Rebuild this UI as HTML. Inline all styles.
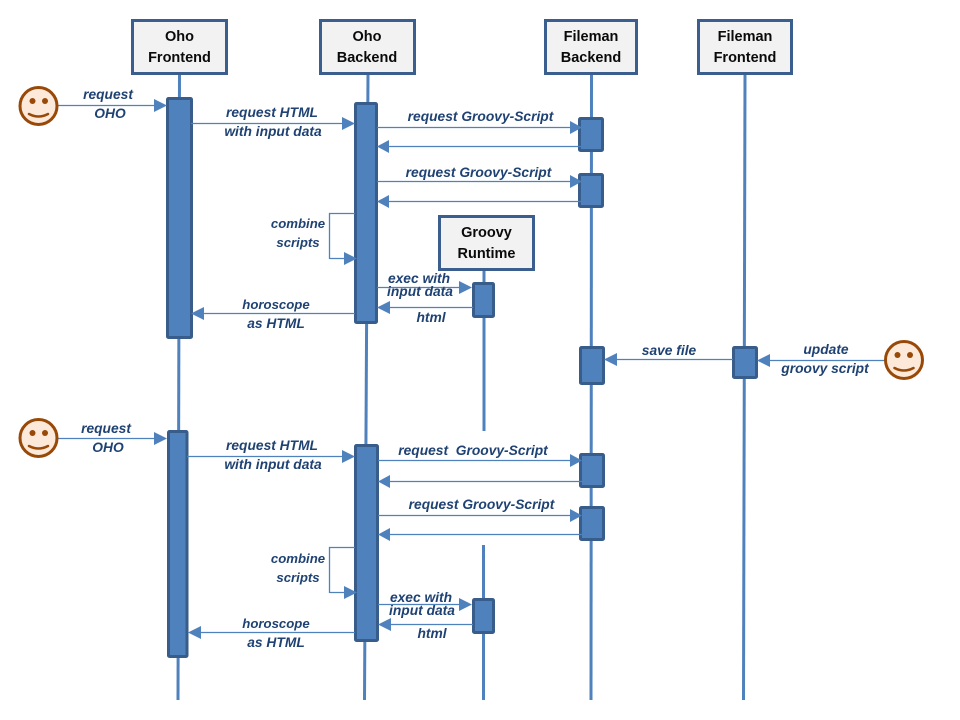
<!DOCTYPE html>
<html><head><meta charset="utf-8"><style>
html,body{margin:0;padding:0;background:#fff}
svg{display:block}
.h{font:bold 14.5px "Liberation Sans",sans-serif;fill:#0a0a0a;text-anchor:middle}
.l{font:italic bold 13.8px "Liberation Sans",sans-serif;fill:#1f4273;text-anchor:middle}
.n{font-size:13.2px}
.c{stroke:#4f81bd;stroke-width:1.3;fill:none}
.box{fill:#f2f2f2;stroke:#3a5f8f;stroke-width:3}
.bar{fill:#4f81bd;stroke:#385d8a;stroke-width:3}
.ll{stroke:#4f81bd;stroke-width:3;fill:none}
.a{fill:#4f81bd}
.f{fill:#fde9d9;stroke:#984807;stroke-width:3}
.e{fill:#984807}
.m{fill:none;stroke:#984807;stroke-width:2.5;stroke-linecap:round}
</style></head><body>
<svg width="960" height="720" viewBox="0 0 960 720" xmlns="http://www.w3.org/2000/svg">
<!-- lifelines -->
<path class="ll" d="M179.5 74L178 700"/>
<path class="ll" d="M368 74L364.500 700"/>
<path class="ll" d="M591.500 74L591 700"/>
<path class="ll" d="M745 74L743.500 700"/>
<path class="ll" d="M484 270V431"/>
<path class="ll" d="M483.500 545V700"/>
<!-- headers -->
<rect class="box" x="132.500" y="20.500" width="94" height="53"/>
<rect class="box" x="320.500" y="20.500" width="94" height="53"/>
<rect class="box" x="545.500" y="20.500" width="91" height="53"/>
<rect class="box" x="698.500" y="20.500" width="93" height="53"/>
<rect class="box" x="439.500" y="216.500" width="94" height="53"/>
<text class="h" x="179.500" y="41">Oho</text><text class="h" x="179.500" y="62">Frontend</text>
<text class="h" x="367" y="41">Oho</text><text class="h" x="367" y="62">Backend</text>
<text class="h" x="591" y="41">Fileman</text><text class="h" x="591" y="62">Backend</text>
<text class="h" x="745" y="41">Fileman</text><text class="h" x="745" y="62">Frontend</text>
<text class="h" x="486.500" y="237">Groovy</text><text class="h" x="486.500" y="258">Runtime</text>
<!-- activations -->
<rect class="bar" x="167.500" y="98.500" width="24" height="239" rx="1"/>
<rect class="bar" x="168.500" y="431.500" width="18.500" height="225" rx="1"/>
<rect class="bar" x="355.500" y="103.500" width="21" height="219" rx="1"/>
<rect class="bar" x="355.500" y="445.500" width="22" height="195" rx="1"/>
<rect class="bar" x="579.500" y="118.500" width="23" height="32" rx="1"/>
<rect class="bar" x="579.500" y="174.500" width="23" height="32" rx="1"/>
<rect class="bar" x="580.500" y="347.500" width="23" height="36" rx="1"/>
<rect class="bar" x="580.500" y="454.500" width="23" height="32" rx="1"/>
<rect class="bar" x="580.500" y="507.500" width="23" height="32" rx="1"/>
<rect class="bar" x="733.500" y="347.500" width="23" height="30" rx="1"/>
<rect class="bar" x="473.500" y="283.500" width="20" height="33" rx="1"/>
<rect class="bar" x="473.500" y="599.500" width="20" height="33" rx="1"/>
<!-- connectors -->
<path class="c" d="M58 105.500H155M191 123.500H343M377 127.500H570M590 146.500H389M377 181.500H570M590 201.500H389M355 213.500H329.500V259M329.500 258.500H345M377 287.500H460M473 307.500H389M355 313.500H203M733 359.500H617M885 360.500H769M58 438.500H155M187 456.500H343M378 460.500H570M590 481.500H389M378 515.500H570M590 534.500H389M355 547.500H329.500V593M329.500 592.500H345M378 604.500H460M473 624.500H389M355 632.500H201"/>
<!-- arrowheads -->
<path class="a" d="M167 105.500L154 99V112Z"/>
<path class="a" d="M355 123.500L342 117V130Z"/>
<path class="a" d="M582 127.500L570 121V134Z"/>
<path class="a" d="M377 146.500L389 140V153Z"/>
<path class="a" d="M582 181.500L570 175V188Z"/>
<path class="a" d="M377 201.500L389 195V208Z"/>
<path class="a" d="M357 258.500L344 252V265Z"/>
<path class="a" d="M472 287.500L459 281V294Z"/>
<path class="a" d="M377 307.500L390 301V314Z"/>
<path class="a" d="M191 313.500L204 307V320Z"/>
<path class="a" d="M604 359.500L617 353V366Z"/>
<path class="a" d="M757 360.500L770 354V367Z"/>
<path class="a" d="M167 438.500L154 432V445Z"/>
<path class="a" d="M355 456.500L342 450V463Z"/>
<path class="a" d="M582 460.500L570 454V467Z"/>
<path class="a" d="M378 481.500L390 475V488Z"/>
<path class="a" d="M582 515.500L570 509V522Z"/>
<path class="a" d="M378 534.500L390 528V541Z"/>
<path class="a" d="M357 592.500L344 586V599Z"/>
<path class="a" d="M472 604.500L459 598V611Z"/>
<path class="a" d="M378 624.500L391 618V631Z"/>
<path class="a" d="M188 632.500L201 626V639Z"/>
<!-- labels -->
<text class="l" x="108" y="99">request</text><text class="l" x="110" y="118">OHO</text>
<text class="l" x="272" y="117">request HTML</text><text class="l" x="273" y="136">with input data</text>
<text class="l" x="480.500" y="121">request Groovy-Script</text>
<text class="l" x="478.500" y="177">request Groovy-Script</text>
<text class="l n" x="298" y="228">combine</text><text class="l n" x="298" y="247">scripts</text>
<text class="l" x="419" y="283">exec with</text><text class="l" x="420" y="296">input data</text>
<text class="l" x="431" y="322">html</text>
<text class="l n" x="276" y="309">horoscope</text><text class="l" x="276" y="328">as HTML</text>
<text class="l" x="669" y="355">save file</text>
<text class="l" x="826" y="354">update</text><text class="l" x="825" y="373">groovy script</text>
<text class="l" x="106" y="433">request</text><text class="l" x="108" y="452">OHO</text>
<text class="l" x="272" y="450">request HTML</text><text class="l" x="273" y="469">with input data</text>
<text class="l" x="473" y="455">request&#160; Groovy-Script</text>
<text class="l" x="481.500" y="509">request Groovy-Script</text>
<text class="l n" x="298" y="563">combine</text><text class="l n" x="298" y="582">scripts</text>
<text class="l" x="421" y="602">exec with</text><text class="l" x="422" y="615">input data</text>
<text class="l" x="432" y="638">html</text>
<text class="l n" x="276" y="628">horoscope</text><text class="l" x="276" y="647">as HTML</text>
<!-- smileys -->
<g><circle class="f" cx="38.500" cy="106" r="18.500"/><circle class="e" cx="32.500" cy="101" r="3"/><circle class="e" cx="45" cy="101" r="3"/><path class="m" d="M29 114Q38.500 119 48 114"/></g>
<g><circle class="f" cx="38.500" cy="438" r="18.500"/><circle class="e" cx="32.500" cy="433" r="3"/><circle class="e" cx="45" cy="433" r="3"/><path class="m" d="M29 446Q38.500 451 48 446"/></g>
<g><circle class="f" cx="904" cy="360" r="18.500"/><circle class="e" cx="897.500" cy="355" r="3"/><circle class="e" cx="910" cy="355" r="3"/><path class="m" d="M894.500 368Q904 373 913.500 368"/></g>
</svg>
</body></html>
